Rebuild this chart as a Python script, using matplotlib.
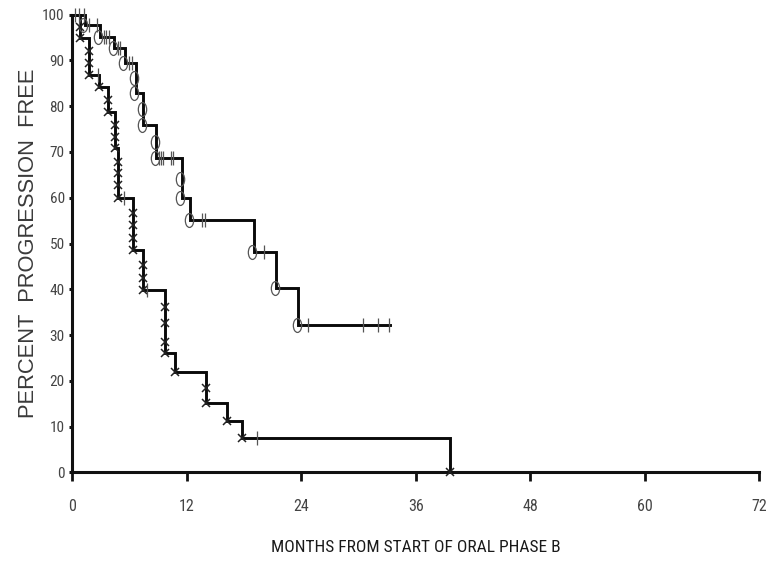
import matplotlib
matplotlib.use("Agg")
import matplotlib.pyplot as plt
from matplotlib import font_manager as fm
from matplotlib.path import Path
from matplotlib.transforms import Affine2D, ScaledTranslation

# ---------------- data ----------------
xticks = [0, 12, 24, 36, 48, 60, 72]
yticks = [0, 10, 20, 30, 40, 50, 60, 70, 80, 90, 100]
xlabel_text = "MONTHS FROM START OF ORAL PHASE B"
ylabel_text = "PERCENT  PROGRESSION  FREE"

# upper curve (circle symbols)
up_step_t = [0, 1.33, 2.9, 4.4, 5.5, 6.65, 7.45, 8.8, 11.5, 12.35, 19.0, 21.4, 23.7, 33.3]
up_step_s = [100, 97.7, 95.2, 92.7, 89.4, 82.8, 75.9, 68.6, 59.9, 55.1, 48.2, 40.2, 32.2, 32.2]
up_event_t = [1.33, 2.9, 4.4, 5.5, 6.65, 6.65, 7.45, 7.45, 8.8, 8.8, 11.5, 11.5, 12.35, 19.0, 21.4, 23.7]
up_event_s = [97.7, 95.2, 92.7, 89.4, 86.1, 82.8, 79.3, 75.9, 72.2, 68.6, 64.0, 59.9, 55.1, 48.2, 40.2, 32.2]
up_cens_t = [0.75, 1.2, 1.7, 2.55, 3.3, 3.55, 3.8, 4.75, 5.05, 5.95, 6.25,
             9.1, 9.3, 9.5, 10.35, 10.55, 13.55, 13.9, 20.1, 24.75, 30.5, 32.1, 33.25]
up_cens_s = [100, 100, 97.7, 97.7, 95.2, 95.2, 95.2, 92.7, 92.7, 89.4, 89.4,
             68.6, 68.6, 68.6, 68.6, 68.6, 55.1, 55.1, 48.2, 32.2, 32.2, 32.2, 32.2]

# lower curve (x symbols)
lo_step_t = [0, 0.8, 1.78, 2.83, 3.78, 4.48, 4.75, 6.33, 7.45, 9.72, 10.77, 14.02, 16.2, 17.77, 39.55]
lo_step_s = [100, 94.8, 86.8, 84.1, 78.8, 70.8, 59.9, 48.6, 39.8, 26.0, 22.0, 15.1, 11.3, 7.4, 0]
lo_event_t = [0.8, 0.8, 1.78, 1.78, 1.78, 2.83, 3.78, 3.78, 4.48, 4.48, 4.48,
              4.75, 4.75, 4.75, 4.75, 6.33, 6.33, 6.33, 6.33, 7.45, 7.45, 7.45,
              9.72, 9.72, 9.72, 9.72, 10.77, 14.02, 14.02, 16.2, 17.77, 39.55]
lo_event_s = [97.4, 94.8, 92.1, 89.4, 86.8, 84.1, 81.4, 78.8, 75.9, 73.3, 70.8,
              67.9, 65.3, 62.8, 59.9, 56.6, 54.0, 51.1, 48.6, 45.3, 42.4, 39.8,
              36.2, 32.6, 28.5, 26.0, 22.0, 18.5, 15.1, 11.3, 7.4, 0]
lo_cens_t = [0.3, 2.65, 5.45, 7.85, 19.4]
lo_cens_s = [100, 86.8, 59.9, 39.8, 7.4]

# ---------------- fonts ----------------
names = {f.name for f in fm.fontManager.ttflist}
narrow = None
for cand in ["Liberation Sans Narrow", "Arial Narrow", "Roboto Condensed", "Open Sans Condensed"]:
    if cand in names:
        narrow = cand
        break
narrow_props = dict(family=[narrow, "DejaVu Sans"]) if narrow else dict(family=["Liberation Sans", "DejaVu Sans"], stretch="condensed")
regular = "Liberation Sans" if "Liberation Sans" in names else "DejaVu Sans"

# ---------------- figure ----------------
W, H = 766, 570
fig = plt.figure(figsize=(W / 100, H / 100), dpi=100)
x0, x1 = 72.3, 759.0
y0, y1 = 472.3, 14.7
ax = fig.add_axes([x0 / W, 1 - y0 / H, (x1 - x0) / W, (y0 - y1) / H])
ax.set_xlim(0, 72)
ax.set_ylim(0, 100)

for sp in ["top", "right"]:
    ax.spines[sp].set_visible(False)
for sp in ["left", "bottom"]:
    ax.spines[sp].set_linewidth(2.2)
    ax.spines[sp].set_color("#111111")
    ax.spines[sp].set_capstyle("projecting")

ax.set_xticks(xticks)
ax.set_yticks(yticks)
ax.set_xticklabels([str(v) for v in xticks])
ax.set_yticklabels([str(v) for v in yticks])
ax.tick_params(axis="x", direction="out", length=6.5, width=2, color="#111111",
               pad=13, labelsize=11.5, labelcolor="#444444")
ax.tick_params(axis="y", direction="out", length=2.5, width=2.2, color="#111111",
               pad=3, labelsize=11, labelcolor="#444444")
for lab in ax.get_xticklabels() + ax.get_yticklabels():
    lab.set_fontproperties(fm.FontProperties(**narrow_props, size=lab.get_fontsize()))

# step curves
line_kw = dict(where="post", color="#0a0a0a", lw=2.1, solid_joinstyle="miter", clip_on=False, zorder=3)
ax.step(up_step_t, up_step_s, **line_kw)
ax.step(lo_step_t, lo_step_s, **line_kw)

# event symbols (circles drawn just left of the drop, as in the original)
shift = ax.transData + ScaledTranslation(-1.5 / 100, 0, fig.dpi_scale_trans)
ellipse = Path.unit_circle().transformed(Affine2D().scale(0.6, 1.0))
ax.plot(up_event_t, up_event_s, linestyle="none", marker=ellipse, markersize=10,
        markerfacecolor="none", markeredgecolor="#555555", markeredgewidth=0.9,
        clip_on=False, zorder=4, transform=shift)
ax.plot(lo_event_t, lo_event_s, linestyle="none", marker="x", markersize=5.5,
        markeredgecolor="#222222", markeredgewidth=1.1, clip_on=False, zorder=4)

# censor ticks
cens_kw = dict(linestyle="none", marker="|", markersize=10, markeredgecolor="#555555",
               markeredgewidth=0.9, clip_on=False, zorder=4)
ax.plot(up_cens_t, up_cens_s, **cens_kw)
ax.plot(lo_cens_t, lo_cens_s, **cens_kw)

# axis labels
xl = ax.set_xlabel(xlabel_text, color="#1a1a1a", **narrow_props, fontsize=14)
yl = ax.set_ylabel(ylabel_text, color="#3a3a3a", family=[regular, "DejaVu Sans"], fontsize=14)

# fit label sizes to the widths measured in the reference
fig.canvas.draw()
r = fig.canvas.get_renderer()
w = xl.get_window_extent(r).width
xl.set_fontsize(14 * 290.0 / w)
h = yl.get_window_extent(r).height
yl.set_fontsize(14 * 350.0 / h)

ax.xaxis.set_label_coords((415.6 - x0) / (x1 - x0), (y0 - 548.0) / (y0 - y1))
xl.set_va("center")
ax.yaxis.set_label_coords((28.5 - x0) / (x1 - x0), 0.5)
yl.set_va("center")

fig.savefig("out.png", dpi=100, facecolor="white")
